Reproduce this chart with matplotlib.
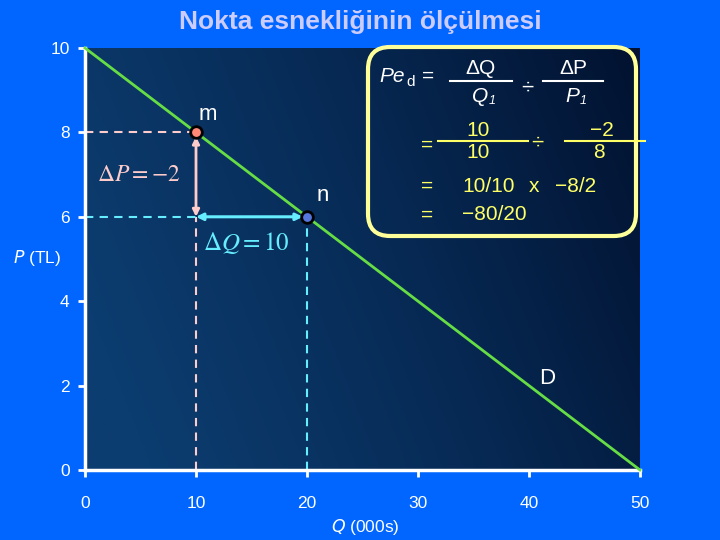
import numpy as np
import matplotlib
matplotlib.use("Agg")
import matplotlib.pyplot as plt
from matplotlib.patches import FancyBboxPatch
from matplotlib.colors import LinearSegmentedColormap

plt.rcParams['font.family'] = ['Liberation Sans', 'DejaVu Sans']

# Data
demand_q = [0, 50]
demand_p = [10, 0]
point_m = (10, 8)
point_n = (20, 6)
x_ticks = [0, 10, 20, 30, 40, 50]
y_ticks = [0, 2, 4, 6, 8, 10]

W, H = 720, 540
fig = plt.figure(figsize=(7.2, 5.4), dpi=100)
fig.patch.set_facecolor('#0066ff')
L, R, T, B = 85, 640, 48, 470
ax = fig.add_axes([L / W, 1 - B / H, (R - L) / W, (B - T) / H])
ax.set_xlim(0, 50)
ax.set_ylim(0, 10)

# gradient background
gx = np.linspace(0, 1, 256)
gy = np.linspace(0, 1, 128)
GX, GY = np.meshgrid(gx, gy)
val = np.clip(0.85 * GX + 0.25 * (1 - GY) - 0.1, 0, 1)
cmap = LinearSegmentedColormap.from_list('bg', ['#0c3d70', '#072a55', '#021230'])
ax.imshow(val, cmap=cmap, extent=[0, 50, 0, 10], aspect='auto', origin='upper', zorder=0)

for s in ['top', 'right']:
    ax.spines[s].set_visible(False)
for s in ['left', 'bottom']:
    ax.spines[s].set_color('white')
    ax.spines[s].set_linewidth(2.5)
ax.set_xticks(x_ticks)
ax.set_yticks(y_ticks)
ax.tick_params(colors='white', labelsize=12.5, width=2, length=5, direction='out')
ax.tick_params(axis='x', pad=14)
ax.tick_params(axis='y', pad=6)

# demand line
ax.plot(demand_q, demand_p, color='#66dd44', lw=2, zorder=3, clip_on=False)

pink = '#ffcccc'
cyan = '#66eeff'
mq, mp = point_m
nq, np_ = point_n
# dashed guides
ax.plot([0, mq], [mp, mp], ls=(0, (4, 3)), color=pink, lw=1.5, zorder=2)
ax.plot([mq, mq], [0, np_], ls=(0, (4, 3)), color=pink, lw=1.5, zorder=2)
ax.plot([0, mq], [np_, np_], ls=(0, (4, 3)), color=cyan, lw=1.5, zorder=2)
ax.plot([nq, nq], [0, np_], ls=(0, (4, 3)), color=cyan, lw=1.5, zorder=2)
# arrows
ax.annotate('', xy=(mq, np_), xytext=(mq, mp),
            arrowprops=dict(arrowstyle='<|-|>', color=pink, lw=2, mutation_scale=10, shrinkA=3, shrinkB=0), zorder=4)
ax.annotate('', xy=(nq, np_), xytext=(mq, np_),
            arrowprops=dict(arrowstyle='<|-|>', color=cyan, lw=2.2, mutation_scale=10, shrinkA=0, shrinkB=3), zorder=4)
# points
ax.scatter([mq], [mp], s=70, color='#ff8877', edgecolor='black', lw=2, zorder=5)
ax.scatter([nq], [np_], s=70, color='#5577dd', edgecolor='black', lw=2, zorder=5)

# labels
def px(x, y):
    return ((x - L) / (R - L) * 50, (B - y) / (B - T) * 10)

ax.text(*px(208, 115), 'm', color='white', fontsize=16, ha='center', va='center', zorder=6)
ax.text(*px(323, 196), 'n', color='white', fontsize=16, ha='center', va='center', zorder=6)
ax.text(*px(139, 175), r'$\Delta P = \mathit{-2}$', color=pink, fontsize=17, ha='center', va='center',
        math_fontfamily='stix', zorder=6)
ax.text(*px(246, 243), r'$\Delta Q = 10$', color=cyan, fontsize=18, ha='center', va='center',
        math_fontfamily='stix', zorder=6)
ax.text(*px(547, 378), 'D', color='white', fontsize=16, ha='center', va='center', zorder=6)
ax.text(*px(37, 258), r'$\mathit{P}$ (TL)', color='white', fontsize=12.5, ha='center', va='center',
        clip_on=False, math_fontfamily='dejavusans')
ax.text(*px(365, 527), r'$\mathit{Q}$ (000s)', color='white', fontsize=12.5, ha='center', va='center',
        clip_on=False, math_fontfamily='dejavusans')

fig.text(0.5, 1 - 22 / H, 'Nokta esnekliğinin ölçülmesi', color='#ccccff', fontsize=19,
         fontweight='bold', ha='center', va='center')

# formula box
bx0, bx1, by0, by1 = 368, 636, 236, 47
afx = lambda x: (x - L) / (R - L)
afy = lambda y: (B - y) / (B - T)
box = FancyBboxPatch((afx(bx0), afy(by0)), afx(bx1) - afx(bx0), afy(by1) - afy(by0),
                     boxstyle='round,pad=0,rounding_size=0.04', mutation_aspect=(R - L) / (B - T),
                     transform=ax.transAxes, facecolor='none', edgecolor='#ffff99', lw=3, zorder=6, clip_on=False)
ax.add_patch(box)

yel = '#ffff66'
def t(x, y, s, color=yel, ha='center', size=15, **kw):
    ax.text(afx(x), afy(y), s, transform=ax.transAxes, color=color, ha=ha, va='center',
            fontsize=size, zorder=7, clip_on=False, **kw)
def hline(x0, x1, y, color):
    ax.plot([afx(x0), afx(x1)], [afy(y), afy(y)], transform=ax.transAxes, color=color, lw=1.5,
            zorder=7, clip_on=False)

wht = 'white'
t(379, 76, 'Pe', color=wht, ha='left', size=15, style='italic')
t(406, 82, 'd', color=wht, ha='left', size=11)
t(428, 76, '=', color=wht)
t(481, 68, 'ΔQ', color=wht, size=15)
hline(450, 512, 81, wht)
t(480, 96, 'Q', color=wht, size=15, style='italic')
t(492, 101, '1', color=wht, size=9, style='italic')
t(527, 88, '÷', color=wht, size=16)
t(573, 68, 'ΔP', color=wht, size=15)
hline(543, 603, 81, wht)
t(572, 96, 'P', color=wht, size=15, style='italic')
t(583, 101, '1', color=wht, size=9, style='italic')

t(427, 145, '=')
t(478, 130, '10')
hline(438, 528, 141, yel)
t(478, 153, '10')
t(537, 143, '÷', size=16)
hline(565, 645, 141, yel)
t(590, 130, '−2', ha='left')
t(599, 153, '8')

t(427, 186, '=')
t(462, 186, '10/10', ha='left')
t(534, 186.5, 'x', size=15)
t(555, 186, '−8/2', ha='left')
t(427, 215, '=')
t(462, 215, '−80/20', ha='left')

fig.savefig('out.png', dpi=100, facecolor=fig.get_facecolor())
